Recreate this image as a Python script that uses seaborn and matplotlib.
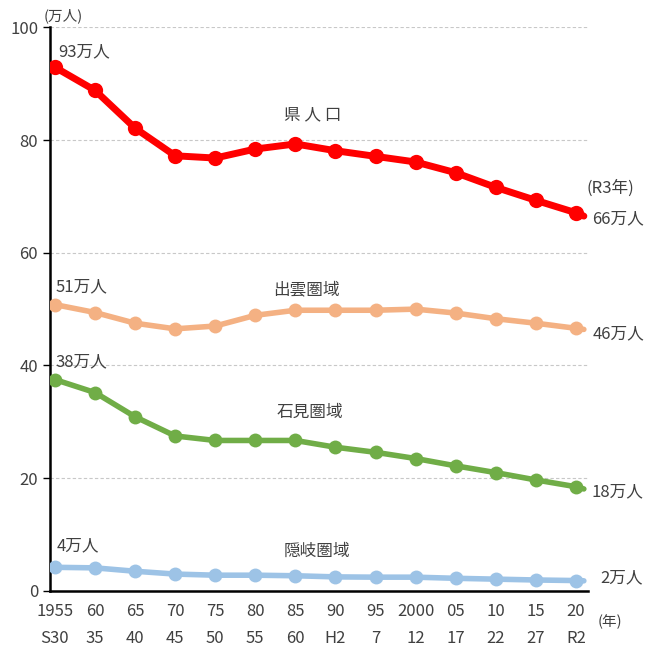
import pandas as pd
import matplotlib
matplotlib.use('Agg')
import matplotlib.pyplot as plt
import seaborn as sns

# 年（2021 = R3 は線の延長のみ）
years = [1955, 1960, 1965, 1970, 1975, 1980, 1985, 1990, 1995, 2000, 2005, 2010, 2015, 2020, 2021]
year_labels = ['1955', '60', '65', '70', '75', '80', '85', '90', '95', '2000', '05', '10', '15', '20']
era_labels = ['S30', '35', '40', '45', '50', '55', '60', 'H2', '7', '12', '17', '22', '27', 'R2']

# 人口（万人）
ken = [92.9, 88.8, 82.1, 77.2, 76.8, 78.4, 79.3, 78.1, 77.1, 76.1, 74.2, 71.6, 69.3, 67.1, 66.5]
izumo = [50.8, 49.4, 47.5, 46.5, 47.0, 48.9, 49.8, 49.8, 49.8, 50.0, 49.3, 48.3, 47.5, 46.6, 46.4]
iwami = [37.5, 35.2, 30.9, 27.5, 26.7, 26.7, 26.7, 25.5, 24.6, 23.5, 22.2, 21.0, 19.7, 18.5, 18.1]
oki = [4.2, 4.1, 3.5, 3.0, 2.8, 2.8, 2.7, 2.5, 2.45, 2.45, 2.25, 2.1, 1.95, 1.85, 1.8]

df = pd.DataFrame({'year': years, 'ken': ken, 'izumo': izumo, 'iwami': iwami, 'oki': oki})

sns.set_theme(style='white')
plt.rcParams['font.family'] = ['Noto Sans CJK JP', 'DejaVu Sans']

fig = plt.figure(figsize=(6.46, 6.49), dpi=100)
ax = fig.add_axes([0.0774, 0.0894, 0.8326, 0.8686])

# 破線のグリッド
for v in [20, 40, 60, 80, 100]:
    ax.axhline(v, color='#c8c8c8', lw=0.8, ls=(0, (3, 2)), zorder=0)

series = [
    ('ken', '#ff0000', 5.0, 11),
    ('izumo', '#f4b183', 4.0, 10),
    ('iwami', '#70ad47', 4.0, 10),
    ('oki', '#9dc3e6', 4.0, 10),
]
for col, c, lw, ms in series:
    sns.lineplot(data=df, x='year', y=col, ax=ax, color=c, lw=lw,
                 marker='o', markersize=ms, markeredgewidth=0,
                 markevery=list(range(14)), zorder=3)

ax.set_xlim(1954.38, 2021.5)
ax.set_ylim(0, 100)
ax.set_xlabel('')
ax.set_ylabel('')

ax.set_yticks([0, 20, 40, 60, 80, 100])
ax.tick_params(axis='y', labelsize=12, labelcolor='#404040', color='black',
               length=5, width=1, direction='out', left=True)

ax.set_xticks(years[:-1])
ax.set_xticklabels([f'{a}\n{b}' for a, b in zip(year_labels, era_labels)],
                   fontsize=12, color='#404040', linespacing=1.7)
ax.tick_params(axis='x', length=0, pad=9)

for s in ['top', 'right']:
    ax.spines[s].set_visible(False)
for s in ['left', 'bottom']:
    ax.spines[s].set_color('black')
    ax.spines[s].set_linewidth(1.8)

tc = '#404040'
kw = dict(fontsize=12, color=tc, va='center')
ax.text(1956.0, 102.1, '(万人)', fontsize=10.5, color=tc, ha='center', va='center', clip_on=False)
ax.text(1955.4, 95.6, '93万人', ha='left', **kw)
ax.text(1987.2, 84.4, '県 人 口', ha='center', **kw)
ax.text(2021.3, 71.5, '(R3年)', ha='left', clip_on=False, **kw)
ax.text(2022.0, 66.1, '66万人', ha='left', clip_on=False, **kw)
ax.text(1955.1, 53.9, '51万人', ha='left', **kw)
ax.text(1986.4, 53.4, '出雲圏域', ha='center', **kw)
ax.text(2022.1, 45.7, '46万人', ha='left', clip_on=False, **kw)
ax.text(1955.1, 40.6, '38万人', ha='left', **kw)
ax.text(1986.8, 31.7, '石見圏域', ha='center', **kw)
ax.text(2022.0, 17.6, '18万人', ha='left', clip_on=False, **kw)
ax.text(1955.2, 8.0, '4万人', ha='left', **kw)
ax.text(1987.7, 7.1, '隠岐圏域', ha='center', **kw)
ax.text(2023.0, 2.3, '2万人', ha='left', clip_on=False, **kw)
ax.text(2022.7, -5.4, '(年)', fontsize=10.5, color=tc, ha='left', va='center', clip_on=False)

fig.savefig('out.png', dpi=100)
